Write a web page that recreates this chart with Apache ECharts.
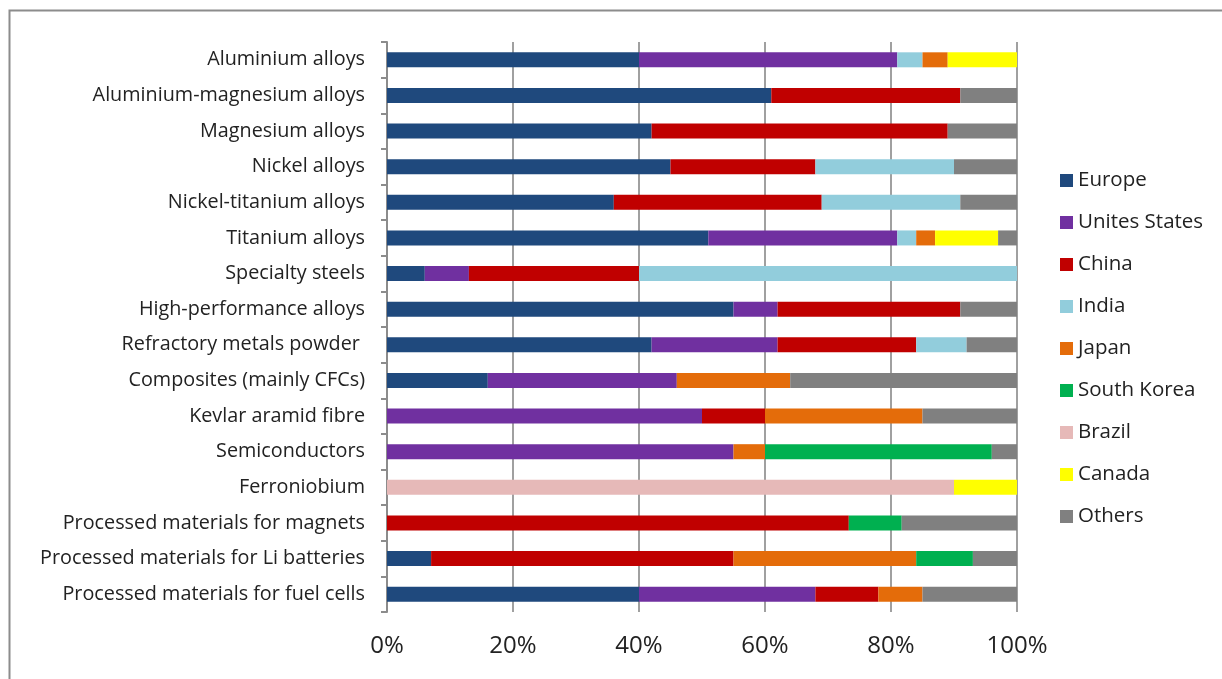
<!DOCTYPE html>
<html>
<head>
<meta charset="utf-8">
<script src="https://cdn.jsdelivr.net/npm/echarts@6/dist/echarts.min.js"></script>
<style>
  html, body { margin: 0; padding: 0; background: #fff; }
  #chart { width: 1222px; height: 679px; }
</style>
</head>
<body>
<div id="chart"></div>
<script>
// Supply shares of processed materials by region (% of total)
const categories = [
  'Aluminium alloys',
  'Aluminium-magnesium alloys',
  'Magnesium alloys',
  'Nickel alloys',
  'Nickel-titanium alloys',
  'Titanium alloys',
  'Specialty steels',
  'High-performance alloys',
  'Refractory metals powder ',
  'Composites (mainly CFCs)',
  'Kevlar aramid fibre',
  'Semiconductors',
  'Ferroniobium',
  'Processed materials for magnets',
  'Processed materials for Li batteries',
  'Processed materials for fuel cells'
];

const europe       = [40, 61, 42, 45, 36, 51,  6, 55, 42, 16,  0,  0,  0,  0,    7, 40];
const unitedStates = [41,  0,  0,  0,  0, 30,  7,  7, 20, 30, 50, 55,  0,  0,    0, 28];
const china        = [ 0, 30, 47, 23, 33,  0, 27, 29, 22,  0, 10,  0,  0, 73.3, 48, 10];
const india        = [ 4,  0,  0, 22, 22,  3, 60,  0,  8,  0,  0,  0,  0,  0,    0,  0];
const japan        = [ 4,  0,  0,  0,  0,  3,  0,  0,  0, 18, 25,  5,  0,  0,   29,  7];
const southKorea   = [ 0,  0,  0,  0,  0,  0,  0,  0,  0,  0,  0, 36,  0,  8.4,  9,  0];
const brazil       = [ 0,  0,  0,  0,  0,  0,  0,  0,  0,  0,  0,  0, 90,  0,    0,  0];
const canada       = [11,  0,  0,  0,  0, 10,  0,  0,  0,  0,  0,  0, 10,  0,    0,  0];
const others       = [ 0,  9, 11, 10,  9,  3,  0,  9,  8, 36, 15,  4,  0, 18.3,  7, 15];

const xTicks = [0, 20, 40, 60, 80, 100];

const seriesDefs = [
  { name: 'Europe',        data: europe,       color: '#1F497D' },
  { name: 'Unites States', data: unitedStates, color: '#7030A0' },
  { name: 'China',         data: china,        color: '#C00000' },
  { name: 'India',         data: india,        color: '#92CDDC' },
  { name: 'Japan',         data: japan,        color: '#E46C0A' },
  { name: 'South Korea',   data: southKorea,   color: '#00B050' },
  { name: 'Brazil',        data: brazil,       color: '#E6B9B8' },
  { name: 'Canada',        data: canada,       color: '#FFFF00' },
  { name: 'Others',        data: others,       color: '#808080' }
];

const FONT = 'Open Sans';

const chart = echarts.init(document.getElementById('chart'), null, { renderer: 'canvas' });

chart.setOption({
  animation: false,
  backgroundColor: '#ffffff',
  graphic: [{
    type: 'rect',
    shape: { x: 9.5, y: 10.5, width: 1240, height: 700 },
    style: { fill: 'none', stroke: '#8c8c8c', lineWidth: 2 },
    silent: true,
    z: -1
  }],
  grid: { left: 387, right: 205, top: 42, bottom: 67, containLabel: false },
  legend: {
    orient: 'vertical',
    left: 1055,
    top: 165,
    itemWidth: 13,
    itemHeight: 13,
    itemGap: 21,
    icon: 'rect',
    textStyle: { fontFamily: FONT, fontSize: 20.5, color: '#222', lineHeight: 21 },
    data: seriesDefs.map(s => s.name)
  },
  xAxis: {
    type: 'value',
    min: 0,
    max: 100,
    interval: 20,
    axisLine: { show: false },
    axisTick: { show: false },
    axisLabel: {
      formatter: v => xTicks.includes(v) ? v + '%' : '',
      fontFamily: FONT,
      fontSize: 24,
      color: '#222',
      margin: 22
    },
    splitLine: { show: true, lineStyle: { color: '#a0a0a0', width: 2 } }
  },
  yAxis: {
    type: 'category',
    inverse: true,
    data: categories,
    axisLine: { show: true, lineStyle: { color: '#8c8c8c', width: 2 } },
    axisTick: { show: true, length: 6, lineStyle: { color: '#8c8c8c', width: 2 } },
    axisLabel: { fontFamily: FONT, fontSize: 19.8, color: '#222', margin: 22, padding: [3, 0, 0, 0] }
  },
  series: seriesDefs.map(s => ({
    name: s.name,
    type: 'bar',
    stack: 'total',
    barWidth: 15,
    data: s.data,
    itemStyle: { color: s.color },
    emphasis: { disabled: true }
  }))
});
</script>
</body>
</html>
